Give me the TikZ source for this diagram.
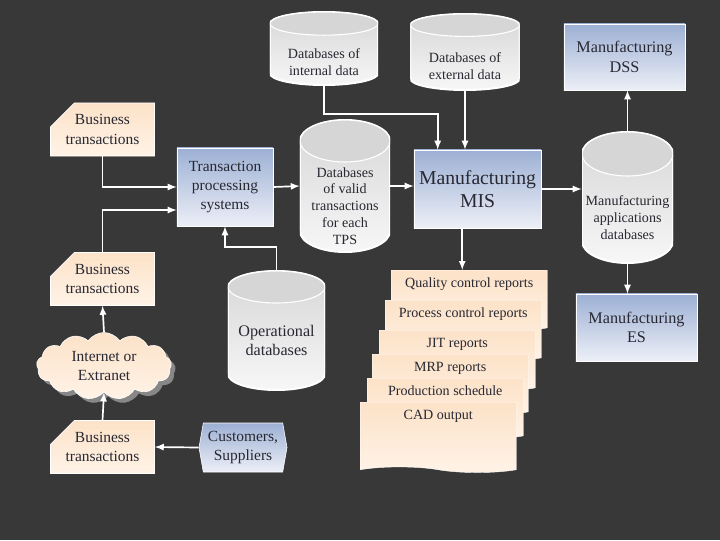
\documentclass[tikz,border=0pt]{standalone}
\usepackage{fontspec}
\setmainfont{Liberation Serif}
\usepackage{tikz}
\usetikzlibrary{arrows, shapes, shapes.geometric, shapes.symbols, shapes.misc, positioning, shadows}

\definecolor{bgdark}{RGB}{56,56,56}
\definecolor{peachtop}{RGB}{252,226,200}
\definecolor{peachbot}{RGB}{255,243,231}
\definecolor{bluetop}{RGB}{157,176,212}
\definecolor{bluebot}{RGB}{236,239,247}
\definecolor{cyltop}{RGB}{214,214,214}
\definecolor{cylbot}{RGB}{247,247,247}
\definecolor{inkdark}{RGB}{40,40,50}
\definecolor{puffshadow}{RGB}{135,135,135}

\begin{document}
\begin{tikzpicture}[x=0.025cm, y=-0.025cm,
    bizbox/.style={chamfered rectangle, chamfered rectangle corners=north west,
        chamfered rectangle xsep=0.4cm, chamfered rectangle ysep=0.22cm,
        draw=white, top color=peachtop, bottom color=peachbot, text=inkdark,
        minimum width=2.425cm, minimum height=1.325cm, inner sep=0pt, align=center,
        font=\fontsize{11}{14}\selectfont},
    sysbox/.style={rectangle, draw=white, top color=bluetop, bottom color=bluebot,
        text=inkdark, inner sep=0pt, align=center},
    % database drawn inside its own box: #1 = x radius, #2 = y radius of the ends
    dbcyl/.style 2 args={rectangle, draw=none, inner sep=0pt,
        path picture={
            \path[top color=cyltop, bottom color=cylbot, draw=white, line width=1.4pt]
                ([yshift=-#2]path picture bounding box.north west)
                -- ([yshift=#2]path picture bounding box.south west)
                arc[start angle=180, end angle=360, x radius=#1, y radius=#2]
                -- ([yshift=-#2]path picture bounding box.north east)
                arc[start angle=0, end angle=180, x radius=#1, y radius=#2] -- cycle;
            \draw[white, line width=0.8pt, fill=cyltop]
                ([yshift=-#2]path picture bounding box.north) ellipse [x radius=#1, y radius=#2];
        }},
    dbtext/.style={align=center, text=inkdark, inner sep=0pt},
    page/.style={tape, tape bend top=none, tape bend bottom=out and in, tape bend height=4pt,
        draw=white, line width=0.3pt, top color=peachtop, bottom color=peachbot,
        text=inkdark, minimum width=3.9cm, anchor=north west, inner ysep=3pt,
        text height=9pt, text depth=24pt, font=\fontsize{10}{12}\selectfont},
    conn/.style={draw=white, line width=1.2pt, -latex}]

    % background
    \fill[bgdark] (0,0) rectangle (720,540);

    % inputs on the left
    \node[bizbox] (biztop) at (102.5,129.5) {Business\\transactions};
    \node[bizbox] (bizmid) at (102.5,279) {Business\\transactions};
    \node[bizbox] (bizbot) at (102.5,447) {Business\\transactions};
    \node[cloud, cloud puffs=13, cloud puff arc=110, aspect=2, draw=white,
        top color=peachtop, bottom color=peachbot, text=inkdark, align=center,
        minimum width=3.375cm, minimum height=1.675cm, inner sep=0pt,
        font=\fontsize{11}{14}\selectfont,
        drop shadow={shadow xshift=3pt, shadow yshift=-3pt, fill=puffshadow, opacity=1}]
        (cloud) at (104,366) {Internet or\\Extranet};
    \node[signal, signal to=west and east, signal pointer angle=160, draw=white,
        top color=bluetop, bottom color=bluebot, text=inkdark, align=center,
        minimum width=2.2cm, minimum height=1.225cm, inner sep=0pt,
        font=\fontsize{11}{14}\selectfont] (custsup) at (243,447.5) {Customers,\\Suppliers};

    % systems
    \node[sysbox, minimum width=2.4cm, minimum height=1.95cm,
        font=\fontsize{11}{13.5}\selectfont] (tps) at (225,187) {Transaction\\processing\\systems};
    \node[sysbox, minimum width=3.175cm, minimum height=1.95cm,
        font=\fontsize{14}{16.5}\selectfont] (mis) at (477.5,189) {Manufacturing\\MIS};
    \node[sysbox, minimum width=3.025cm, minimum height=1.65cm,
        font=\fontsize{11.5}{14}\selectfont] (dss) at (624.5,57) {Manufacturing\\DSS};
    \node[sysbox, minimum width=3.025cm, minimum height=1.675cm,
        font=\fontsize{11.5}{14}\selectfont] (es) at (636.5,327.5) {Manufacturing\\ES};

    % databases
    \node[dbcyl={1.35cm}{0.29cm}, minimum width=2.7cm, minimum height=1.825cm,
        label={[dbtext, yshift=-0.34cm, font=\fontsize{10}{12.5}\selectfont]center:Databases of\\internal data}]
        (dbint) at (324,48.5) {};
    \node[dbcyl={1.3625cm}{0.28cm}, minimum width=2.725cm, minimum height=1.9cm,
        label={[dbtext, yshift=-0.35cm, font=\fontsize{10}{12.5}\selectfont]center:Databases of\\external data}]
        (dbext) at (465,52) {};
    \node[dbcyl={1.125cm}{0.525cm}, minimum width=2.25cm, minimum height=3.3cm,
        label={[dbtext, yshift=-0.5cm, font=\fontsize{10}{12}\selectfont]center:Databases\\of valid\\transactions\\for each\\TPS}]
        (dbvalid) at (345,186) {};
    \node[dbcyl={1.1375cm}{0.55cm}, minimum width=2.275cm, minimum height=3.275cm,
        label={[dbtext, yshift=-0.51cm, font=\fontsize{10}{12}\selectfont]center:Manufacturing\\applications\\databases}]
        (dbapps) at (627.5,197.5) {};
    \node[dbcyl={1.2125cm}{0.4cm}, minimum width=2.425cm, minimum height=2.975cm,
        label={[dbtext, yshift=-0.25cm, font=\fontsize{11.5}{14}\selectfont]center:Operational\\databases}]
        (dbops) at (276.5,330.5) {};

    % stack of reports
    \node[page] (qcr) at (391,270) {Quality control reports};
    \node[page] (pcr) at (385,300) {Process control reports};
    \node[page] (jit) at (379,330) {JIT reports};
    \node[page] (mrp) at (372,354) {MRP reports};
    \node[page] (prod) at (367,378) {Production schedule};
    \node[page, text depth=31pt] (cad) at (360,402) {CAD output};

    % connectors
    \draw[conn] (biztop.south) |- (tps.west);
    \draw[conn] (bizmid.north) |- ([yshift=-0.575cm]tps.west);
    \draw[conn] (dbops.north) -- ++(0,-24) -| (tps.south);
    \draw[conn] (tps.east) -- (dbvalid.west);
    \draw[conn] (dbvalid.east) -- (dbvalid.east -| mis.west);
    \draw[conn] (dbint.south) -- ++(0,29) -| ([xshift=0.6cm]mis.north west);
    \draw[conn] (dbext.south) -- (dbext.south |- mis.north);
    \draw[conn] (mis.east) -- (mis.east -| dbapps.west);
    \draw[conn] (dbapps.north) -- (dbapps.north |- dss.south);
    \draw[conn] (dbapps.south) -- (dbapps.south |- es.north);
    \draw[conn] ([xshift=-0.175cm]qcr.north |- mis.south) -- ([xshift=-0.175cm]qcr.north);
    \draw[conn] (cloud.north) -- (bizmid.south);
    \draw[conn] (bizbot.north) -- (cloud.south);
    \draw[conn] (custsup.west) -- (bizbot.east);
\end{tikzpicture}
\end{document}
